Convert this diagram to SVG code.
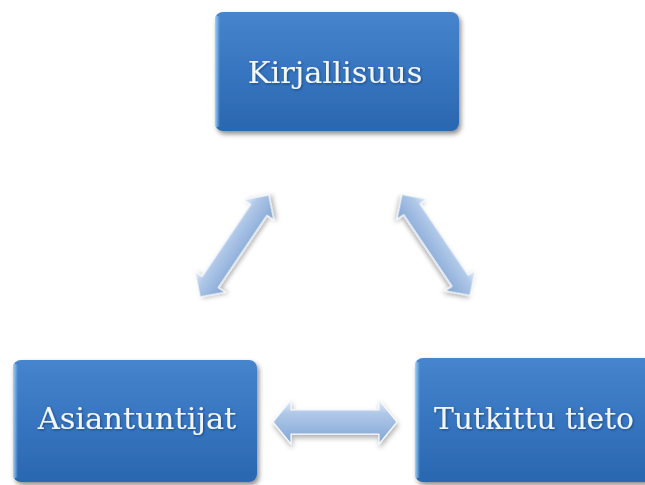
<svg xmlns="http://www.w3.org/2000/svg" width="645" height="485" viewBox="0 0 645 485">
<defs>
<linearGradient id="boxFill" x1="0" y1="0" x2="0" y2="1">
<stop offset="0" stop-color="#4685cd"/>
<stop offset="0.5" stop-color="#3775c0"/>
<stop offset="1" stop-color="#2a67b0"/>
</linearGradient>
<linearGradient id="edgeFill" x1="0" y1="0" x2="1" y2="0">
<stop offset="0" stop-color="#9fd3f7"/>
<stop offset="1" stop-color="#9fd3f7" stop-opacity="0"/>
</linearGradient>
<linearGradient id="arrowFill" x1="0" y1="0" x2="0" y2="1">
<stop offset="0" stop-color="#e4eefa"/>
<stop offset="0.3" stop-color="#b0c8e8"/>
<stop offset="0.7" stop-color="#95b4dd"/>
<stop offset="1" stop-color="#85a5cf"/>
</linearGradient>
<filter id="shadow" x="-10%" y="-10%" width="125%" height="130%">
<feDropShadow dx="2" dy="3" stdDeviation="2.5" flood-color="#000" flood-opacity="0.45"/>
</filter>
<filter id="ashadow" x="-20%" y="-30%" width="140%" height="170%">
<feDropShadow dx="1" dy="3" stdDeviation="2.5" flood-color="#000" flood-opacity="0.3"/>
</filter>
<filter id="tshadow" x="-5%" y="-20%" width="110%" height="140%">
<feDropShadow dx="1" dy="1" stdDeviation="0.8" flood-color="#0a2a55" flood-opacity="0.6"/>
</filter>
<path id="dbl" d="M-62,0 L-44,-20 L-44,-11 L44,-11 L44,-20 L62,0 L44,20 L44,11 L-44,11 L-44,20 Z"/>
</defs>
<style>
.box{fill:url(#boxFill);filter:url(#shadow)}
.edge{fill:url(#edgeFill)}
.lbl{font-family:"DejaVu Serif","Liberation Serif",serif;font-size:30.5px;fill:#f2f7fc;text-anchor:middle;filter:url(#tshadow)}
.arrow{fill:url(#arrowFill);stroke:#f4f8fd;stroke-width:1.2;stroke-linejoin:round;filter:url(#ashadow)}
</style>
<rect width="645" height="485" fill="#ffffff"/>
<g id="connectors">
<use href="#dbl" class="arrow" transform="translate(335,422) scale(1,1.1)"/>
<use href="#dbl" class="arrow" transform="translate(234.5,246) rotate(-56) scale(0.99,0.9)"/>
<use href="#dbl" class="arrow" transform="translate(436,245) rotate(56) scale(0.98,0.9)"/>
</g>
<g id="node-kirjallisuus">
<rect class="box" x="215" y="12" width="244" height="119" rx="8"/>
<rect class="edge" x="215" y="16" width="5" height="111" rx="2"/>
<text class="lbl" x="335" y="83">Kirjallisuus</text>
</g>
<g id="node-asiantuntijat">
<rect class="box" x="13" y="360" width="244" height="122" rx="8"/>
<rect class="edge" x="13" y="364" width="5" height="114" rx="2"/>
<text class="lbl" x="137" y="429">Asiantuntijat</text>
</g>
<g id="node-tutkittu">
<rect class="box" x="415" y="358" width="244" height="124" rx="8"/>
<rect class="edge" x="415" y="362" width="5" height="116" rx="2"/>
<text class="lbl" x="534" y="429" textLength="200" lengthAdjust="spacingAndGlyphs">Tutkittu tieto</text>
</g>
</svg>
